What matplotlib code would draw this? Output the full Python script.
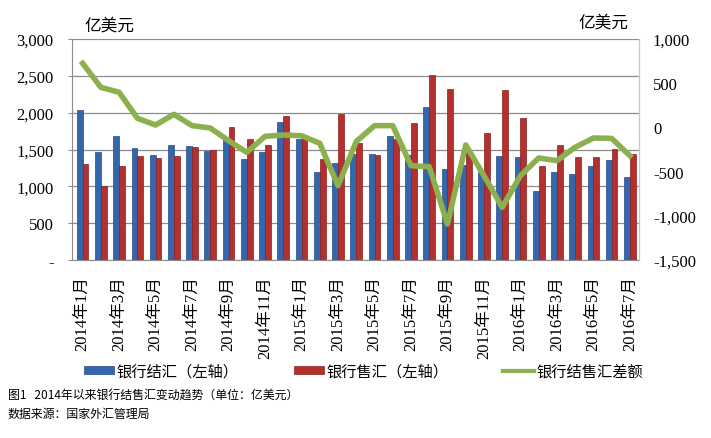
import matplotlib
matplotlib.use('Agg')
import matplotlib.pyplot as plt
from matplotlib.patches import Patch
from matplotlib.lines import Line2D
import numpy as np

# months, 2014-01 .. 2016-07
months = ['2014年1月', '2014年2月', '2014年3月', '2014年4月', '2014年5月', '2014年6月',
          '2014年7月', '2014年8月', '2014年9月', '2014年10月', '2014年11月', '2014年12月',
          '2015年1月', '2015年2月', '2015年3月', '2015年4月', '2015年5月', '2015年6月',
          '2015年7月', '2015年8月', '2015年9月', '2015年10月', '2015年11月', '2015年12月',
          '2016年1月', '2016年2月', '2016年3月', '2016年4月', '2016年5月', '2016年6月',
          '2016年7月']

# 银行结汇 (left axis, 亿美元)
settle = [2036, 1466, 1683, 1520, 1425, 1561, 1543, 1480, 1625, 1374, 1470, 1873,
          1637, 1195, 1317, 1439, 1439, 1690, 1430, 2077, 1235, 1283, 1197, 1412,
          1398, 937, 1195, 1167, 1276, 1357, 1127]
# 银行售汇 (left axis)
sale = [1303, 1004, 1276, 1412, 1385, 1412, 1534, 1493, 1808, 1646, 1563, 1955,
        1660, 1371, 1982, 1588, 1425, 1646, 1855, 2511, 2321, 1466, 1727, 2308,
        1928, 1276, 1561, 1398, 1398, 1507, 1439]
# 银行结售汇差额 (right axis)
balance = [725, 453, 397, 103, 27, 148, 20, -7, -150, -282, -101, -86,
           -94, -180, -659, -160, 20, 20, -433, -445, -1093, -199, -546, -904,
           -546, -346, -376, -225, -120, -124, -320]

left_ticks = [0, 500, 1000, 1500, 2000, 2500, 3000]
left_labels = ['-', '500', '1,000', '1,500', '2,000', '2,500', '3,000']
right_ticks = [-1500, -1000, -500, 0, 500, 1000]
right_labels = ['-1,500', '-1,000', '-500', '0', '500', '1,000']

legend_labels = ['银行结汇（左轴）', '银行售汇（左轴）', '银行结售汇差额']
caption = '图1   2014年以来银行结售汇变动趋势（单位：亿美元）'
source = '数据来源：国家外汇管理局'

BLUE = '#3466ad'
BLUE_EDGE = '#234b85'
RED = '#b3302f'
RED_EDGE = '#8a1f1f'
GREEN = '#8db04e'
GRID = '#8c8c8c'

num_font = ['Liberation Serif', 'Noto Sans CJK SC']
cjk_font = ['Noto Sans CJK SC', 'DejaVu Sans']
plt.rcParams['font.family'] = num_font

W, H = 711, 439
fig = plt.figure(figsize=(W / 100, H / 100), dpi=100)
ax = fig.add_axes([71.7 / W, 1 - 261 / H, (639 - 71.7) / W, 221 / H])

x = np.arange(len(months))
bw = 0.32
ax.bar(x - bw / 2, settle, bw, color=BLUE, edgecolor=BLUE_EDGE, linewidth=0.5, zorder=2)
ax.bar(x + bw / 2, sale, bw, color=RED, edgecolor=RED_EDGE, linewidth=0.5, zorder=2)

ax.set_xlim(-0.6, len(months) - 0.5)
ax.set_ylim(0, 3000)
ax.set_yticks(left_ticks)
ax.set_yticklabels(left_labels)
ax.grid(axis='y', color=GRID, linewidth=0.9, zorder=0)
ax.set_axisbelow(True)
for side in ['left', 'bottom']:
    ax.spines[side].set_color(GRID)
ax.spines['right'].set_color('#c8c8c8')
ax.spines['top'].set_visible(False)
ax.tick_params(axis='y', length=3, color=GRID, pad=10, labelsize=12)
ax.set_xticks(x[::2])
ax.set_xticklabels(months[::2], rotation=90, fontsize=12, va='top', ha='center')
ax.tick_params(axis='x', length=0, pad=11)

ax2 = ax.twinx()
ax2.plot(x, balance, color=GREEN, linewidth=4, solid_joinstyle='round', zorder=3)
ax2.set_ylim(-1500, 1000)
ax2.set_yticks(right_ticks)
ax2.set_yticklabels(right_labels)
ax2.tick_params(axis='y', length=0, pad=10, labelsize=12)
for side in ['left', 'bottom', 'top']:
    ax2.spines[side].set_visible(False)
ax2.spines['right'].set_color('#c8c8c8')

fig.text(109 / W, 1 - 26 / H, '亿美元', ha='center', va='center', fontsize=12, family=cjk_font)
fig.text(603 / W, 1 - 23 / H, '亿美元', ha='center', va='center', fontsize=12, family=cjk_font)

handles = [Patch(facecolor=BLUE, edgecolor=BLUE_EDGE, linewidth=0.5),
           Patch(facecolor=RED, edgecolor=RED_EDGE, linewidth=0.5),
           Line2D([0], [0], color=GREEN, linewidth=3)]
fig.legend(handles, legend_labels, loc='center left', bbox_to_anchor=(70 / W, 1 - 372 / H),
           ncol=3, frameon=False, handlelength=2.0, handleheight=0.45, handletextpad=0.15,
           columnspacing=3.6, prop={'family': cjk_font, 'size': 11})

fig.text(8 / W, 1 - 396 / H, caption, ha='left', va='center', fontsize=8.6, family=cjk_font)
fig.text(8 / W, 1 - 414 / H, source, ha='left', va='center', fontsize=8.6, family=cjk_font)

fig.savefig('out.png', dpi=100)
